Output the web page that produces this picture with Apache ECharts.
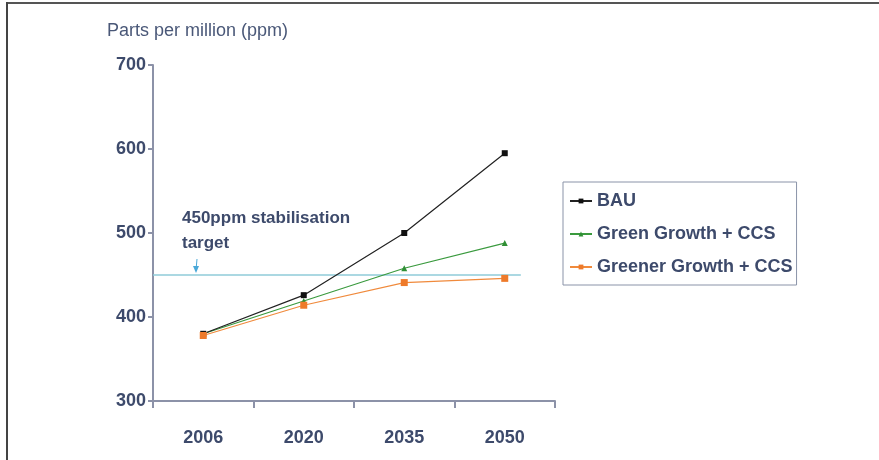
<!DOCTYPE html>
<html><head><meta charset="utf-8">
<script src="https://cdn.jsdelivr.net/npm/echarts@6/dist/echarts.min.js"></script>
<style>
html,body{margin:0;padding:0;background:#fff;}
#frame{position:absolute;left:0;top:0;width:879px;height:460px;}
#edgeTop{position:absolute;left:6px;top:2px;width:873px;height:2px;background:#555;}
#edgeLeft{position:absolute;left:6px;top:2px;width:2px;height:458px;background:#444;}
#chart{position:absolute;left:0;top:0;width:879px;height:460px;}
</style></head>
<body>
<div id="frame"><div id="chart"></div><div id="edgeTop"></div><div id="edgeLeft"></div></div>
<script>
const categories = ['2006', '2020', '2035', '2050'];
const bau = [380, 426, 500, 595];
const greenGrowth = [380, 419, 458, 488];
const greenerGrowth = [378, 414, 441, 446];
const targetValue = 450;
const targetSpan = [0, 3.66];   // extent of the target line, in category-width units from the axis origin
const yTicks = [300, 400, 500, 600, 700];

const textColor = '#3d4a6b';
const axisColor = '#8c92a8';
const font = '"Liberation Sans", Arial, sans-serif';

const chart = echarts.init(document.getElementById('chart'));
chart.setOption({
  backgroundColor: '#fff',
  animation: false,
  textStyle: { fontFamily: font },
  grid: { left: 153, right: 324, top: 65, bottom: 59 },
  legend: {
    orient: 'vertical',
    left: 563, top: 182,
    padding: [10, 4, 9, 6],
    itemGap: 15,
    itemWidth: 22, itemHeight: 6,
    borderColor: '#8a93a8', borderWidth: 1,
    textStyle: { color: textColor, fontSize: 18, fontWeight: 'bold', fontFamily: font },
    data: ['BAU', 'Green Growth + CCS', 'Greener Growth + CCS']
  },
  xAxis: [{
    type: 'category',
    data: categories,
    boundaryGap: true,
    axisLine: { lineStyle: { color: axisColor, width: 2 } },
    axisTick: { show: true, length: 7, interval: 0, lineStyle: { color: axisColor, width: 2 } },
    axisLabel: { color: textColor, fontSize: 18, fontWeight: 'bold', margin: 28, fontFamily: font },
    splitLine: { show: false }
  }, {
    type: 'value', show: false, min: 0, max: categories.length,
    position: 'bottom'
  }],
  yAxis: {
    type: 'value',
    min: yTicks[0], max: yTicks[yTicks.length - 1], interval: 100,
    name: 'Parts per million (ppm)',
    nameLocation: 'end',
    nameGap: 25,
    nameTextStyle: { color: '#4a5878', fontSize: 18, align: 'left', padding: [0, 0, 0, -46], fontFamily: font },
    axisLine: { show: true, lineStyle: { color: axisColor, width: 2 } },
    axisTick: { show: true, length: 5, lineStyle: { color: axisColor, width: 2 } },
    axisLabel: { color: textColor, fontSize: 18, fontWeight: 'bold', margin: 7, fontFamily: font },
    splitLine: { show: false }
  },
  series: [
    {
      name: 'target', type: 'line', xAxisIndex: 1,
      data: targetSpan.map(x => [x, targetValue]),
      symbol: 'none', silent: true,
      lineStyle: { color: '#8fcbd8', width: 1.5 },
      z: 1
    },
    {
      name: 'BAU', type: 'line', data: bau,
      symbol: 'rect', symbolSize: 6,
      lineStyle: { color: '#222', width: 1.2 },
      itemStyle: { color: '#111' },
      z: 4
    },
    {
      name: 'Green Growth + CCS', type: 'line', data: greenGrowth,
      symbol: 'triangle', symbolSize: 6,
      lineStyle: { color: '#3a9a3e', width: 1.2 },
      itemStyle: { color: '#2f8f35' },
      z: 3
    },
    {
      name: 'Greener Growth + CCS', type: 'line', data: greenerGrowth,
      symbol: 'rect', symbolSize: 7,
      lineStyle: { color: '#f08a3c', width: 1.2 },
      itemStyle: { color: '#ee7a2a' },
      z: 5
    }
  ],
  graphic: [
    {
      type: 'text', left: 182, top: 206, z: 10,
      style: { text: '450ppm stabilisation\ntarget', fill: textColor, font: 'bold 17px ' + font, lineHeight: 25 }
    },
    {
      type: 'line', z: 10,
      shape: { x1: 197, y1: 259, x2: 196, y2: 270 },
      style: { stroke: '#4aa8d8', lineWidth: 1 }
    },
    {
      type: 'polygon', z: 10,
      shape: { points: [[193, 266], [199, 266], [196, 273]] },
      style: { fill: '#4aa8d8' }
    }
  ]
});
</script>
</body></html>
